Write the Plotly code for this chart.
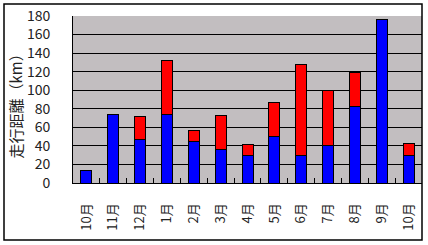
import plotly.graph_objects as go

months = ["10月", "11月", "12月", "1月", "2月", "3月", "4月", "5月", "6月", "7月", "8月", "9月", "10月"]
periods = ["2006-10", "2006-11", "2006-12", "2007-01", "2007-02", "2007-03", "2007-04",
           "2007-05", "2007-06", "2007-07", "2007-08", "2007-09", "2007-10"]
blue_vals = [13, 74, 47, 74, 45, 36, 30, 50, 30, 40, 82, 176, 30]
red_vals = [0, 0, 25, 58, 12, 37, 12, 37, 98, 60, 37, 0, 13]
y_ticks = [0, 20, 40, 60, 80, 100, 120, 140, 160, 180]

font = "Noto Sans CJK JP, Noto Sans, sans-serif"

fig = go.Figure()
fig.add_trace(go.Bar(x=periods, y=blue_vals, marker=dict(color="#0000FF", line=dict(color="black", width=1))))
fig.add_trace(go.Bar(x=periods, y=red_vals, marker=dict(color="#FF0000", line=dict(color="black", width=1))))

L, R, T, B = 73, 6, 16, 62
W, H = 428, 245
pw, ph = W - L - R, H - T - B

fig.update_layout(
    width=W, height=H,
    margin=dict(l=L, r=R, t=T, b=B, pad=0),
    barmode="stack", bargap=0.59,
    showlegend=False,
    paper_bgcolor="white",
    plot_bgcolor="#C2BEC0",
    font=dict(family=font, color="#222222", size=13),
    xaxis=dict(
        type="category", tickangle=-90, tickfont=dict(size=13),
        tickvals=periods, ticktext=months,
        ticks="inside", tickson="boundaries", ticklen=5, tickcolor="black",
        showline=True, linecolor="black", linewidth=1, showgrid=False,
        ticklabelstandoff=14,
    ),
    yaxis=dict(
        range=[0, 180], tickvals=y_ticks, showgrid=True, gridcolor="black", gridwidth=1,
        showline=True, linecolor="black", linewidth=1, zeroline=False,
        ticks="", ticklabelstandoff=19, tickfont=dict(size=14),
    ),
    shapes=[dict(type="rect", xref="paper", yref="paper",
                 x0=(4 - L) / pw, x1=(422 - L) / pw,
                 y0=(H - B - 240) / ph, y1=(H - B - 4) / ph,
                 line=dict(color="black", width=1.5), fillcolor="rgba(0,0,0,0)", layer="below")],
    annotations=[dict(text="走行距離（km）", xref="paper", yref="paper",
                      x=(14.5 - L) / pw, y=(H - B - 103) / ph, textangle=-90,
                      showarrow=False, font=dict(size=15, color="#222222"),
                      xanchor="center", yanchor="middle")],
)

fig.write_html("out.html")
